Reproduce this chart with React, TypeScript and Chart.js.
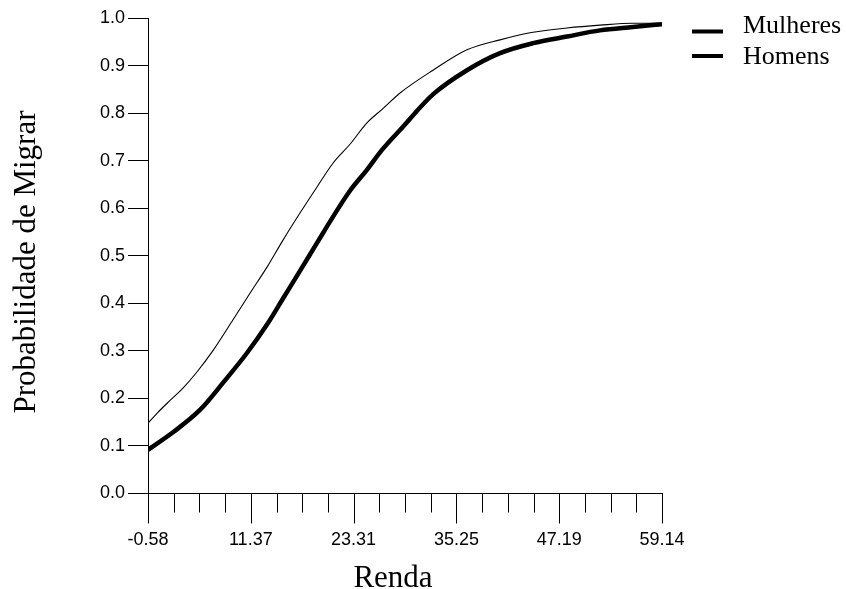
import React, { useEffect, useRef } from "react";
import { Chart, registerables } from "chart.js";

Chart.register(...registerables);

// ---- data ----
const seriesNames = ["Mulheres", "Homens"];

const rendaMulheres = [-0.58, 0.47, 1.98, 3.49, 5.11, 6.97, 9.3, 11.27, 13.25, 15.11, 17.08, 19.06, 20.91, 22.89, 24.86, 26.72, 28.7, 32.53, 36.48, 40.32, 44.15, 48.1, 51.93, 55.77, 59.14];
const probMulheres = [0.147, 0.168, 0.195, 0.221, 0.255, 0.3, 0.365, 0.421, 0.476, 0.533, 0.59, 0.645, 0.695, 0.735, 0.78, 0.81, 0.843, 0.891, 0.934, 0.955, 0.971, 0.98, 0.986, 0.99, 0.99];

const rendaHomens = [-0.58, 2.33, 5.46, 8.13, 10.92, 13.25, 15.11, 17.08, 19.06, 20.91, 22.89, 24.86, 26.61, 28.7, 32.53, 36.48, 40.32, 44.15, 48.1, 51.93, 55.77, 59.14];
const probHomens = [0.091, 0.128, 0.175, 0.232, 0.295, 0.355, 0.41, 0.468, 0.527, 0.582, 0.637, 0.681, 0.723, 0.765, 0.84, 0.891, 0.927, 0.948, 0.962, 0.975, 0.982, 0.988];

const xMajorTicks = [-0.575, 11.367, 23.309, 35.251, 47.193, 59.135];
const xMajorLabels = ["-0.58", "11.37", "23.31", "35.25", "47.19", "59.14"];
const yTickValues = [0, 0.1, 0.2, 0.3, 0.4, 0.5, 0.6, 0.7, 0.8, 0.9, 1.0];
const yTickLabels = ["0.0", "0.1", "0.2", "0.3", "0.4", "0.5", "0.6", "0.7", "0.8", "0.9", "1.0"];

const xTitle = "Renda";
const yTitle = "Probabilidade de Migrar";

const SANS = "'Liberation Sans', Arial, sans-serif";
const SERIF = "'Liberation Serif', 'Times New Roman', serif";

// all x tick values: majors plus 3 minor subdivisions between each pair
const allXTicks: { value: number; major: boolean; label: string }[] = [];
xMajorTicks.forEach((v, i) => {
  allXTicks.push({ value: v, major: true, label: xMajorLabels[i] });
  if (i < xMajorTicks.length - 1) {
    const next = xMajorTicks[i + 1];
    for (let k = 1; k < 4; k++) {
      allXTicks.push({ value: v + ((next - v) * k) / 4, major: false, label: "" });
    }
  }
});

const decorPlugin = {
  id: "decor",
  afterDraw(chart: any) {
    const { ctx, scales } = chart;
    const x = scales.x;
    const y = scales.y;
    const axisY = Math.round(y.getPixelForValue(0)) + 0.5;
    ctx.save();
    ctx.strokeStyle = "#000";
    ctx.lineWidth = 1;
    // x ticks (major long, minor short)
    allXTicks.forEach((t) => {
      const px = Math.round(x.getPixelForValue(t.value)) + 0.5;
      ctx.beginPath();
      ctx.moveTo(px, axisY);
      ctx.lineTo(px, axisY + (t.major ? 30 : 19));
      ctx.stroke();
    });

    ctx.fillStyle = "#000";
    // x title
    ctx.font = `31px ${SERIF}`;
    ctx.textAlign = "center";
    ctx.textBaseline = "alphabetic";
    ctx.fillText(xTitle, 393, 587);
    // y title
    ctx.save();
    ctx.translate(35, 262);
    ctx.rotate(-Math.PI / 2);
    ctx.fillText(yTitle, 0, 0);
    ctx.restore();

    // legend
    const legendRows = [
      { lineY: 31.5, baseY: 33 },
      { lineY: 56, baseY: 64 },
    ];
    ctx.font = `26px ${SERIF}`;
    ctx.textAlign = "left";
    chart.data.datasets.forEach((ds: any, i: number) => {
      const r = legendRows[i];
      ctx.fillRect(692, r.lineY - 2, 31, 4);
      ctx.fillText(ds.label, 743, r.baseY);
    });
    ctx.restore();
  },
};

export default function App() {
  const ref = useRef<HTMLCanvasElement>(null);

  useEffect(() => {
    const canvas = ref.current!;
    const chart = new Chart(canvas, {
      type: "line",
      data: {
        datasets: [
          {
            label: seriesNames[0],
            data: rendaMulheres.map((r, i) => ({ x: r, y: probMulheres[i] })),
            borderColor: "#000",
            borderWidth: 1.1,
            pointRadius: 0,
            cubicInterpolationMode: "monotone",
            fill: false,
          },
          {
            label: seriesNames[1],
            data: rendaHomens.map((r, i) => ({ x: r, y: probHomens[i] })),
            borderColor: "#000",
            borderWidth: 4.5,
            pointRadius: 0,
            cubicInterpolationMode: "monotone",
            fill: false,
          },
        ],
      },
      options: {
        responsive: false,
        animation: false,
        devicePixelRatio: 1,
        layout: { padding: { left: 0, top: 18.5, right: 184, bottom: 0 } },
        plugins: {
          legend: { display: false },
          tooltip: { enabled: false },
        },
        scales: {
          x: {
            type: "linear",
            min: xMajorTicks[0],
            max: xMajorTicks[xMajorTicks.length - 1],
            afterBuildTicks: (scale: any) => {
              scale.ticks = allXTicks.map((t) => ({ value: t.value }));
            },
            afterFit: (scale: any) => {
              scale.height = 96;
            },
            grid: { display: true, drawOnChartArea: false, drawTicks: false, color: "#000" },
            border: { display: true, color: "#000", width: 1 },
            ticks: {
              autoSkip: false,
              maxRotation: 0,
              minRotation: 0,
              padding: 36,
              color: "#000",
              font: { family: SANS, size: 18 },
              callback: (_v: any, idx: number) => allXTicks[idx] ? allXTicks[idx].label : "",
            },
          },
          y: {
            type: "linear",
            min: 0,
            max: 1,
            afterBuildTicks: (scale: any) => {
              scale.ticks = yTickValues.map((v) => ({ value: v }));
            },
            afterFit: (scale: any) => {
              scale.width = 148;
            },
            grid: { display: true, drawOnChartArea: false, drawTicks: true, tickLength: 20, color: "#000", lineWidth: 1 },
            border: { display: true, color: "#000", width: 1 },
            ticks: {
              padding: 3,
              color: "#000",
              font: { family: SANS, size: 18 },
              callback: (_v: any, idx: number) => yTickLabels[idx],
            },
          },
        },
      },
      plugins: [decorPlugin],
    } as any);
    return () => chart.destroy();
  }, []);

  return (
    <div style={{ position: "fixed", left: 0, top: 0, width: 846, height: 589, background: "#fff" }}>
      <canvas ref={ref} width={846} height={589} style={{ display: "block", width: 846, height: 589 }} />
    </div>
  );
}
